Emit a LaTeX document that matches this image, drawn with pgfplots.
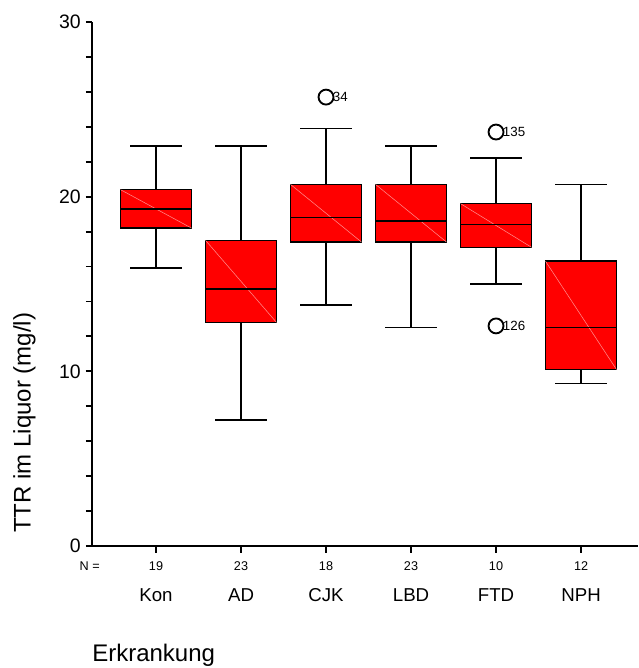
\documentclass[border=0pt]{standalone}
\usepackage{fontspec}
\setmainfont{Liberation Sans}
\usepackage{pgfplots}
\pgfplotsset{compat=1.18}
\definecolor{boxred}{RGB}{255,0,0}
\definecolor{diag}{RGB}{255,140,140}

\begin{document}
\begin{tikzpicture}
\begin{axis}[
  scale only axis, width=409.5pt, height=393pt,
  xmin=0.247, xmax=6.67, ymin=0, ymax=30,
  axis x line*=bottom, axis y line*=left,
  axis line style={-, line width=1.4pt},
  tick style={draw=black, line width=1.4pt},
  tick align=outside,
  major tick length=4.5pt, minor tick length=4.5pt,
  ytick={0,10,20,30}, minor ytick={2,4,...,28},
  xtick={1,2,3,4,5,6}, xticklabels={19,23,18,23,10,12},
  yticklabel style={font=\fontsize{14.6}{16}\selectfont, inner sep=0pt, anchor=east, xshift=-3.75pt},
  xticklabel style={font=\fontsize{9.5}{11}\selectfont, inner sep=0pt, anchor=north, yshift=-6.75pt},
  /pgf/number format/assume math mode=true,
  clip=false,
  unbounded coords=jump,
  boxstyle/.style={fill=boxred, draw=black, line width=1.2pt},
  whisk/.style={black, line width=1.2pt},
  dg/.style={draw=diag, line width=0.4pt},
]
% Kon: lw 15.9, q1 18.2, med 19.3, q3 20.4, uw 22.9
\addplot[boxstyle] coordinates {(0.5825,18.2) (1.4175,18.2) (1.4175,20.4) (0.5825,20.4)} --cycle;
\addplot[dg] coordinates {(0.5825,20.4) (1.4175,18.2)};
\addplot[whisk] coordinates {(1,20.4) (1,22.9) (1,nan) (0.695,22.9) (1.305,22.9) (1,nan) (1,18.2) (1,15.9) (1,nan) (0.695,15.9) (1.305,15.9) (1,nan) (0.5825,19.3) (1.4175,19.3)};
% AD: lw 7.2, q1 12.8, med 14.7, q3 17.5, uw 22.9
\addplot[boxstyle] coordinates {(1.5825,12.8) (2.4175,12.8) (2.4175,17.5) (1.5825,17.5)} --cycle;
\addplot[dg] coordinates {(1.5825,17.5) (2.4175,12.8)};
\addplot[whisk] coordinates {(2,17.5) (2,22.9) (2,nan) (1.695,22.9) (2.305,22.9) (2,nan) (2,12.8) (2,7.2) (2,nan) (1.695,7.2) (2.305,7.2) (2,nan) (1.5825,14.7) (2.4175,14.7)};
% CJK: lw 13.8, q1 17.4, med 18.8, q3 20.7, uw 23.9
\addplot[boxstyle] coordinates {(2.5825,17.4) (3.4175,17.4) (3.4175,20.7) (2.5825,20.7)} --cycle;
\addplot[dg] coordinates {(2.5825,20.7) (3.4175,17.4)};
\addplot[whisk] coordinates {(3,20.7) (3,23.9) (3,nan) (2.695,23.9) (3.305,23.9) (3,nan) (3,17.4) (3,13.8) (3,nan) (2.695,13.8) (3.305,13.8) (3,nan) (2.5825,18.8) (3.4175,18.8)};
% LBD: lw 12.5, q1 17.4, med 18.6, q3 20.7, uw 22.9
\addplot[boxstyle] coordinates {(3.5825,17.4) (4.4175,17.4) (4.4175,20.7) (3.5825,20.7)} --cycle;
\addplot[dg] coordinates {(3.5825,20.7) (4.4175,17.4)};
\addplot[whisk] coordinates {(4,20.7) (4,22.9) (4,nan) (3.695,22.9) (4.305,22.9) (4,nan) (4,17.4) (4,12.5) (4,nan) (3.695,12.5) (4.305,12.5) (4,nan) (3.5825,18.6) (4.4175,18.6)};
% FTD: lw 15.0, q1 17.1, med 18.4, q3 19.6, uw 22.2
\addplot[boxstyle] coordinates {(4.5825,17.1) (5.4175,17.1) (5.4175,19.6) (4.5825,19.6)} --cycle;
\addplot[dg] coordinates {(4.5825,19.6) (5.4175,17.1)};
\addplot[whisk] coordinates {(5,19.6) (5,22.2) (5,nan) (4.695,22.2) (5.305,22.2) (5,nan) (5,17.1) (5,15.0) (5,nan) (4.695,15.0) (5.305,15.0) (5,nan) (4.5825,18.4) (5.4175,18.4)};
% NPH: lw 9.3, q1 10.1, med 12.5, q3 16.3, uw 20.7
\addplot[boxstyle] coordinates {(5.5825,10.1) (6.4175,10.1) (6.4175,16.3) (5.5825,16.3)} --cycle;
\addplot[dg] coordinates {(5.5825,16.3) (6.4175,10.1)};
\addplot[whisk] coordinates {(6,16.3) (6,20.7) (6,nan) (5.695,20.7) (6.305,20.7) (6,nan) (6,10.1) (6,9.3) (6,nan) (5.695,9.3) (6.305,9.3) (6,nan) (5.5825,12.5) (6.4175,12.5)};
% outliers
\addplot[only marks, mark=o, mark size=5.6pt, mark options={line width=1.4pt, draw=black}] coordinates {(3,25.7) (5,23.7) (5,12.6)};
\node[anchor=west, inner sep=0pt, font=\fontsize{10}{12}\selectfont] at ([xshift=5pt]axis cs:3,25.7) {34};
\node[anchor=west, inner sep=0pt, font=\fontsize{10}{12}\selectfont] at ([xshift=5pt]axis cs:5,23.7) {135};
\node[anchor=west, inner sep=0pt, font=\fontsize{10}{12}\selectfont] at ([xshift=5pt]axis cs:5,12.6) {126};
% x tick marks under the categories
\pgfplotsinvokeforeach{1,2,3,4,5,6}{\draw[line width=1.4pt] (axis cs:#1,0) -- ([yshift=-5pt]axis cs:#1,0);}
% N label and categories
\node[anchor=north east, inner sep=0pt, font=\fontsize{9.5}{11}\selectfont] at ([xshift=6pt,yshift=-12pt]rel axis cs:0,0) {N =};
\node[anchor=base, inner sep=0pt, font=\fontsize{14}{16}\selectfont] at ([yshift=-41.25pt]axis cs:1,0) {Kon};
\node[anchor=base, inner sep=0pt, font=\fontsize{14}{16}\selectfont] at ([yshift=-41.25pt]axis cs:2,0) {AD};
\node[anchor=base, inner sep=0pt, font=\fontsize{14}{16}\selectfont] at ([yshift=-41.25pt]axis cs:3,0) {CJK};
\node[anchor=base, inner sep=0pt, font=\fontsize{14}{16}\selectfont] at ([yshift=-41.25pt]axis cs:4,0) {LBD};
\node[anchor=base, inner sep=0pt, font=\fontsize{14}{16}\selectfont] at ([yshift=-41.25pt]axis cs:5,0) {FTD};
\node[anchor=base, inner sep=0pt, font=\fontsize{14}{16}\selectfont] at ([yshift=-41.25pt]axis cs:6,0) {NPH};
% titles
\node[anchor=base west, inner sep=0pt, font=\fontsize{18}{21}\selectfont] at ([yshift=-86.5pt]rel axis cs:0,0) {Erkrankung};
\node[anchor=base west, rotate=90, inner sep=0pt, font=\fontsize{18}{21}\selectfont] at ([xshift=-46.1pt,yshift=9.75pt]rel axis cs:0,0) {TTR im Liquor (mg/l)};
\coordinate (bl) at (rel axis cs:0,0);
\coordinate (tr) at (rel axis cs:1,1);
\end{axis}
\pgfresetboundingbox
\path ([shift={(-69pt,-91.5pt)}]bl) rectangle ([yshift=16.5pt]tr);
\end{tikzpicture}
\end{document}
